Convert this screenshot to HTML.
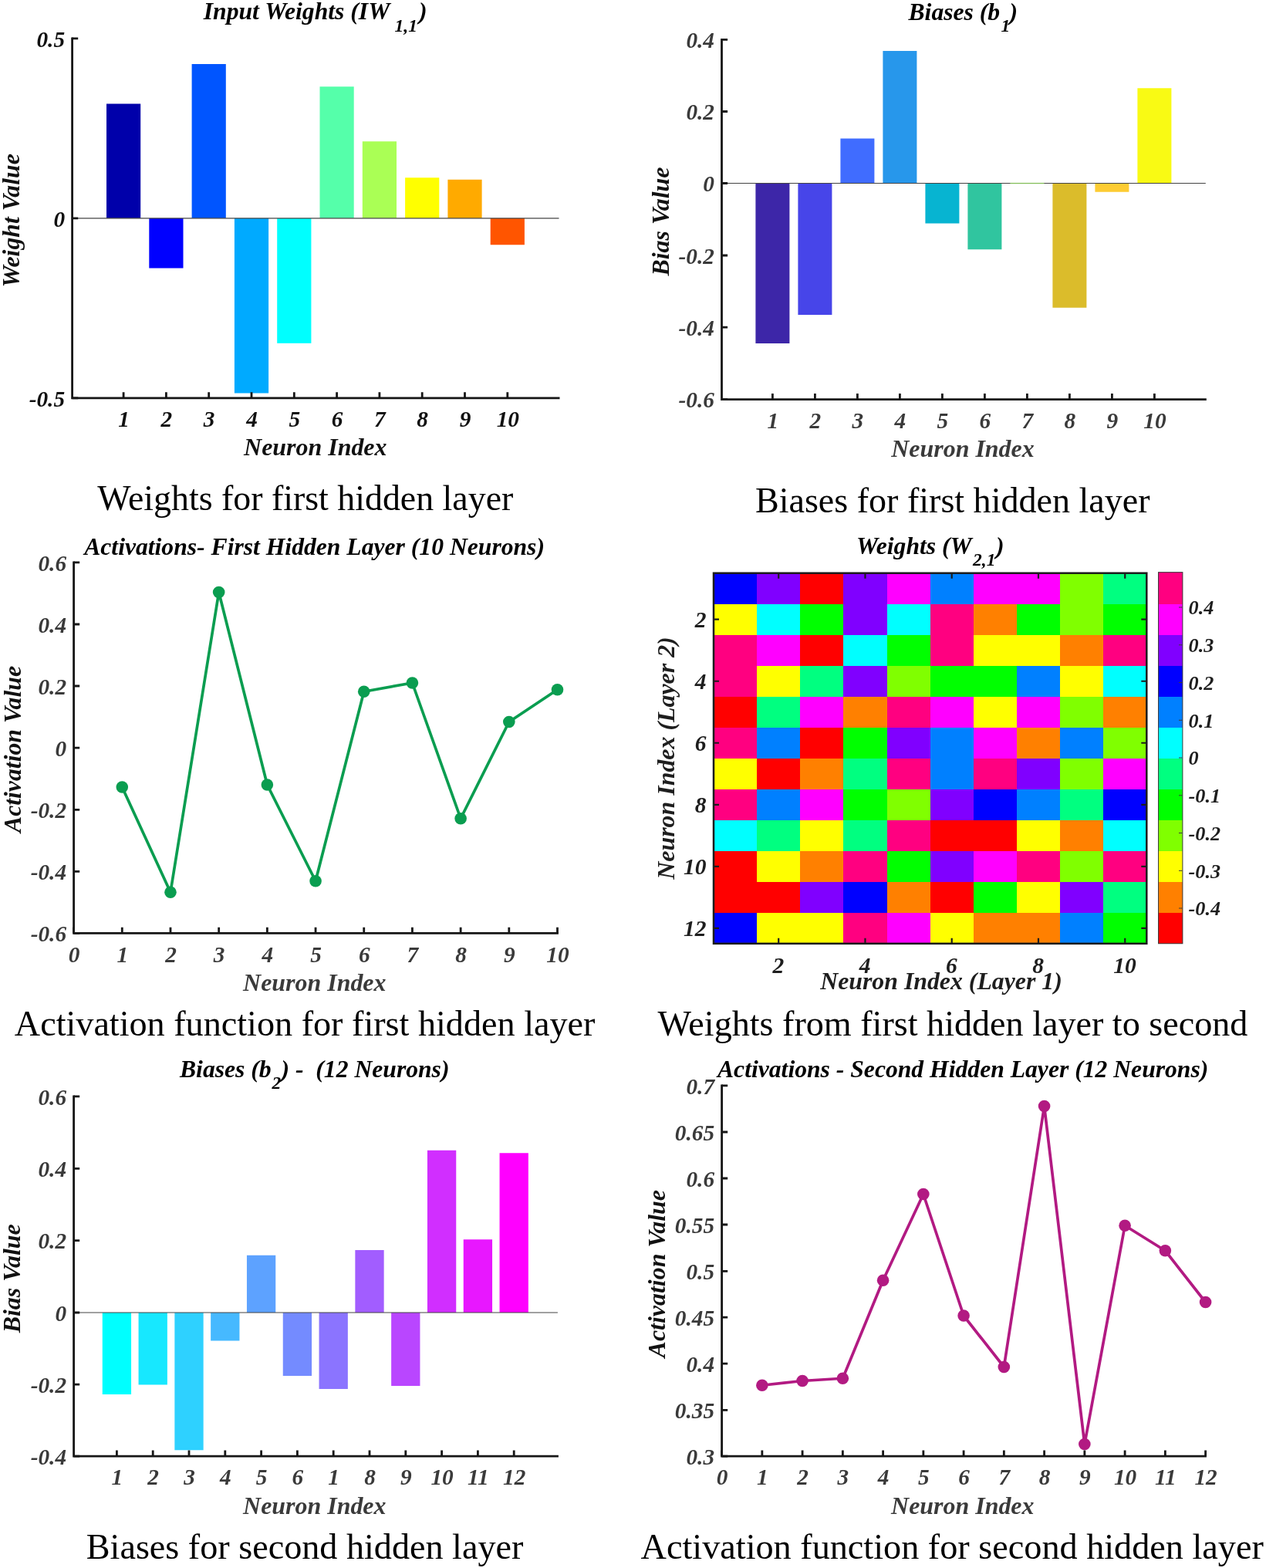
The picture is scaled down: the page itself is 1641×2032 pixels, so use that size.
<!DOCTYPE html>
<html lang="en">
<head>
<meta charset="utf-8">
<title>Neural network weights, biases and activations</title>
<style>
html,body{margin:0;padding:0;background:#fff;}
body{width:1641px;height:2032px;overflow:hidden;}
svg{display:block;}
text{font-family:"Liberation Serif", serif;white-space:pre;}
.bi{font-weight:bold;font-style:italic;}
.cap{font-weight:normal;font-style:normal;fill:#000;}
.ttl{font-weight:bold;font-style:italic;fill:#000;}
</style>
</head>
<body>
<svg width="1641" height="2032" viewBox="0 0 1641 2032">
<rect width="1641" height="2032" fill="#fff"/>

<g id="chart1">
<rect x="138" y="134.5" width="44.2" height="148.4" fill="#0000AA"/>
<rect x="193.3" y="282.9" width="44.2" height="64.6" fill="#0000FF"/>
<rect x="248.6" y="83" width="44.2" height="199.9" fill="#0055FF"/>
<rect x="303.9" y="282.9" width="44.2" height="226.6" fill="#00AAFF"/>
<rect x="359.2" y="282.9" width="44.2" height="161.9" fill="#00FFFF"/>
<rect x="414.5" y="112.25" width="44.2" height="170.65" fill="#55FFAA"/>
<rect x="469.8" y="183.25" width="44.2" height="99.65" fill="#AAFF55"/>
<rect x="525.1" y="230.25" width="44.2" height="52.65" fill="#FFFF00"/>
<rect x="580.4" y="232.75" width="44.2" height="50.15" fill="#FFAA00"/>
<rect x="635.7" y="282.9" width="44.2" height="34.35" fill="#FF5500"/>
<g class="axes">
<line x1="93.6" y1="282.9" x2="724.5" y2="282.9" stroke="#444" stroke-width="1.1"/>
<path d="M93.6 48.5V517.2M92.2 515.8H725.5" fill="none" stroke="#161616" stroke-width="2.8"/>
<path d="M93.6 49.9h7.6M93.6 282.9h7.6M93.6 515.8h7.6M160.1 515.8v-7.6M215.4 515.8v-7.6M270.7 515.8v-7.6M326 515.8v-7.6M381.3 515.8v-7.6M436.6 515.8v-7.6M491.9 515.8v-7.6M547.2 515.8v-7.6M602.5 515.8v-7.6M657.8 515.8v-7.6" fill="none" stroke="#161616" stroke-width="2.8"/>
<text class="bi" x="84.1" y="60.6" font-size="29.3" text-anchor="end" fill="#111">0.5</text>
<text class="bi" x="84.1" y="293.6" font-size="29.3" text-anchor="end" fill="#111">0</text>
<text class="bi" x="84.1" y="526.5" font-size="29.3" text-anchor="end" fill="#111">-0.5</text>
<text class="bi" x="160.6" y="553" font-size="29.3" text-anchor="middle" fill="#111">1</text>
<text class="bi" x="215.9" y="553" font-size="29.3" text-anchor="middle" fill="#111">2</text>
<text class="bi" x="271.2" y="553" font-size="29.3" text-anchor="middle" fill="#111">3</text>
<text class="bi" x="326.5" y="553" font-size="29.3" text-anchor="middle" fill="#111">4</text>
<text class="bi" x="381.8" y="553" font-size="29.3" text-anchor="middle" fill="#111">5</text>
<text class="bi" x="437.1" y="553" font-size="29.3" text-anchor="middle" fill="#111">6</text>
<text class="bi" x="492.4" y="553" font-size="29.3" text-anchor="middle" fill="#111">7</text>
<text class="bi" x="547.7" y="553" font-size="29.3" text-anchor="middle" fill="#111">8</text>
<text class="bi" x="603" y="553" font-size="29.3" text-anchor="middle" fill="#111">9</text>
<text class="bi" x="658.3" y="553" font-size="29.3" text-anchor="middle" fill="#111">10</text>
<text class="bi" x="408.8" y="590.1" font-size="31.95" text-anchor="middle" fill="#111">Neuron Index</text>
<text class="bi" x="24.7" y="285.8" font-size="31.75" text-anchor="middle" fill="#111" transform="rotate(-90 24.7 285.8)">Weight Value</text>
</g>
<text class="ttl" font-size="31.65" x="263.8" y="25.3">Input Weights (IW<tspan font-size="23.5" x="511.5" y="40.5">1,1</tspan><tspan x="543" y="25.3">)</tspan></text>
<text class="cap" x="126.3" y="661" font-size="45.88">Weights for first hidden layer</text>
</g>
<g id="chart2">
<rect x="979.4" y="237.5" width="44" height="207.5" fill="#3D26A8"/>
<rect x="1034.4" y="237.5" width="44" height="170.5" fill="#4745E9"/>
<rect x="1089.4" y="179.5" width="44" height="58" fill="#406CFF"/>
<rect x="1144.4" y="66" width="44" height="171.5" fill="#2797EB"/>
<rect x="1199.4" y="237.5" width="44" height="52" fill="#07B4D1"/>
<rect x="1254.4" y="237.5" width="44" height="85.75" fill="#30C59F"/>
<rect x="1309.4" y="237.5" width="44" height="0.7" fill="#7FCB5A"/>
<rect x="1364.4" y="237.5" width="44" height="161.25" fill="#DBBC2B"/>
<rect x="1419.4" y="237.5" width="44" height="11.25" fill="#FDCC33"/>
<rect x="1474.4" y="114.25" width="44" height="123.25" fill="#F9FA14"/>
<g class="axes">
<line x1="935.5" y1="237.5" x2="1562.8" y2="237.5" stroke="#444" stroke-width="1.1"/>
<path d="M935.5 49.9V519M934.1 517.6H1563.8" fill="none" stroke="#161616" stroke-width="2.8"/>
<path d="M935.5 51.3h7.6M935.5 144.5h7.6M935.5 237.5h7.6M935.5 331h7.6M935.5 424.2h7.6M935.5 517.6h7.6M1001.4 517.6v-7.6M1056.4 517.6v-7.6M1111.4 517.6v-7.6M1166.4 517.6v-7.6M1221.4 517.6v-7.6M1276.4 517.6v-7.6M1331.4 517.6v-7.6M1386.4 517.6v-7.6M1441.4 517.6v-7.6M1496.4 517.6v-7.6" fill="none" stroke="#161616" stroke-width="2.8"/>
<text class="bi" x="926" y="62" font-size="29.3" text-anchor="end" fill="#3a3a3a">0.4</text>
<text class="bi" x="926" y="155.2" font-size="29.3" text-anchor="end" fill="#3a3a3a">0.2</text>
<text class="bi" x="926" y="248.2" font-size="29.3" text-anchor="end" fill="#3a3a3a">0</text>
<text class="bi" x="926" y="341.7" font-size="29.3" text-anchor="end" fill="#3a3a3a">-0.2</text>
<text class="bi" x="926" y="434.9" font-size="29.3" text-anchor="end" fill="#3a3a3a">-0.4</text>
<text class="bi" x="926" y="528.3" font-size="29.3" text-anchor="end" fill="#3a3a3a">-0.6</text>
<text class="bi" x="1001.9" y="554.8" font-size="29.3" text-anchor="middle" fill="#3a3a3a">1</text>
<text class="bi" x="1056.9" y="554.8" font-size="29.3" text-anchor="middle" fill="#3a3a3a">2</text>
<text class="bi" x="1111.9" y="554.8" font-size="29.3" text-anchor="middle" fill="#3a3a3a">3</text>
<text class="bi" x="1166.9" y="554.8" font-size="29.3" text-anchor="middle" fill="#3a3a3a">4</text>
<text class="bi" x="1221.9" y="554.8" font-size="29.3" text-anchor="middle" fill="#3a3a3a">5</text>
<text class="bi" x="1276.9" y="554.8" font-size="29.3" text-anchor="middle" fill="#3a3a3a">6</text>
<text class="bi" x="1331.9" y="554.8" font-size="29.3" text-anchor="middle" fill="#3a3a3a">7</text>
<text class="bi" x="1386.9" y="554.8" font-size="29.3" text-anchor="middle" fill="#3a3a3a">8</text>
<text class="bi" x="1441.9" y="554.8" font-size="29.3" text-anchor="middle" fill="#3a3a3a">9</text>
<text class="bi" x="1496.9" y="554.8" font-size="29.3" text-anchor="middle" fill="#3a3a3a">10</text>
<text class="bi" x="1248" y="591.9" font-size="31.95" text-anchor="middle" fill="#3a3a3a">Neuron Index</text>
<text class="bi" x="866.6" y="287" font-size="31.95" text-anchor="middle" fill="#111" transform="rotate(-90 866.6 287)">Bias Value</text>
</g>
<rect x="1309.4" y="236.9" width="44" height="1" fill="#8CCB5E"/>
<text class="ttl" font-size="31.65" x="1177.5" y="26">Biases (b<tspan font-size="23.5" x="1297.5" y="41">1</tspan><tspan x="1308.5" y="26">)</tspan></text>
<text class="cap" x="979" y="663.8" font-size="46.05">Biases for first hidden layer</text>
</g>
<g id="chart3">
<polyline points="158.29,1020 220.98,1156.25 283.67,767.5 346.36,1017 409.05,1141.75 471.74,896.25 534.43,885 597.12,1060.75 659.81,935.5 722.5,893.75" fill="none" stroke="#0A9D50" stroke-width="3.7" stroke-linejoin="round"/>
<circle cx="158.29" cy="1020" r="7.8" fill="#0A9D50"/>
<circle cx="220.98" cy="1156.25" r="7.8" fill="#0A9D50"/>
<circle cx="283.67" cy="767.5" r="7.8" fill="#0A9D50"/>
<circle cx="346.36" cy="1017" r="7.8" fill="#0A9D50"/>
<circle cx="409.05" cy="1141.75" r="7.8" fill="#0A9D50"/>
<circle cx="471.74" cy="896.25" r="7.8" fill="#0A9D50"/>
<circle cx="534.43" cy="885" r="7.8" fill="#0A9D50"/>
<circle cx="597.12" cy="1060.75" r="7.8" fill="#0A9D50"/>
<circle cx="659.81" cy="935.5" r="7.8" fill="#0A9D50"/>
<circle cx="722.5" cy="893.75" r="7.8" fill="#0A9D50"/>
<g class="axes">
<path d="M95.6 727.4V1210.7M94.2 1209.3H723.9" fill="none" stroke="#161616" stroke-width="2.8"/>
<path d="M95.6 728.8h7.6M95.6 809h7.6M95.6 889h7.6M95.6 969.2h7.6M95.6 1049.3h7.6M95.6 1129.3h7.6M95.6 1209.3h7.6M95.6 1209.3v-7.6M158.29 1209.3v-7.6M220.98 1209.3v-7.6M283.67 1209.3v-7.6M346.36 1209.3v-7.6M409.05 1209.3v-7.6M471.74 1209.3v-7.6M534.43 1209.3v-7.6M597.12 1209.3v-7.6M659.81 1209.3v-7.6M722.5 1209.3v-7.6" fill="none" stroke="#161616" stroke-width="2.8"/>
<text class="bi" x="86.1" y="739.5" font-size="29.3" text-anchor="end" fill="#3a3a3a">0.6</text>
<text class="bi" x="86.1" y="819.7" font-size="29.3" text-anchor="end" fill="#3a3a3a">0.4</text>
<text class="bi" x="86.1" y="899.7" font-size="29.3" text-anchor="end" fill="#3a3a3a">0.2</text>
<text class="bi" x="86.1" y="979.9" font-size="29.3" text-anchor="end" fill="#3a3a3a">0</text>
<text class="bi" x="86.1" y="1060" font-size="29.3" text-anchor="end" fill="#3a3a3a">-0.2</text>
<text class="bi" x="86.1" y="1140" font-size="29.3" text-anchor="end" fill="#3a3a3a">-0.4</text>
<text class="bi" x="86.1" y="1220" font-size="29.3" text-anchor="end" fill="#3a3a3a">-0.6</text>
<text class="bi" x="96.1" y="1246.5" font-size="29.3" text-anchor="middle" fill="#3a3a3a">0</text>
<text class="bi" x="158.79" y="1246.5" font-size="29.3" text-anchor="middle" fill="#3a3a3a">1</text>
<text class="bi" x="221.48" y="1246.5" font-size="29.3" text-anchor="middle" fill="#3a3a3a">2</text>
<text class="bi" x="284.17" y="1246.5" font-size="29.3" text-anchor="middle" fill="#3a3a3a">3</text>
<text class="bi" x="346.86" y="1246.5" font-size="29.3" text-anchor="middle" fill="#3a3a3a">4</text>
<text class="bi" x="409.55" y="1246.5" font-size="29.3" text-anchor="middle" fill="#3a3a3a">5</text>
<text class="bi" x="472.24" y="1246.5" font-size="29.3" text-anchor="middle" fill="#3a3a3a">6</text>
<text class="bi" x="534.93" y="1246.5" font-size="29.3" text-anchor="middle" fill="#3a3a3a">7</text>
<text class="bi" x="597.62" y="1246.5" font-size="29.3" text-anchor="middle" fill="#3a3a3a">8</text>
<text class="bi" x="660.31" y="1246.5" font-size="29.3" text-anchor="middle" fill="#3a3a3a">9</text>
<text class="bi" x="723" y="1246.5" font-size="29.3" text-anchor="middle" fill="#3a3a3a">10</text>
<text class="bi" x="407.8" y="1283.6" font-size="31.95" text-anchor="middle" fill="#3a3a3a">Neuron Index</text>
<text class="bi" x="26.9" y="971" font-size="31.76" text-anchor="middle" fill="#111" transform="rotate(-90 26.9 971)">Activation Value</text>
</g>
<text class="ttl" x="109.2" y="718.8" font-size="31.65">Activations- First Hidden Layer (10 Neurons)</text>
<text class="cap" x="18.8" y="1341.8" font-size="46.18">Activation function for first hidden layer</text>
</g>
<g id="chart4">
<g shape-rendering="crispEdges">
<rect x="925" y="742.7" width="56.63" height="40.51" fill="#0000FF"/>
<rect x="981.13" y="742.7" width="56.63" height="40.51" fill="#8000FF"/>
<rect x="1037.26" y="742.7" width="56.63" height="40.51" fill="#FF0000"/>
<rect x="1093.39" y="742.7" width="56.63" height="40.51" fill="#8000FF"/>
<rect x="1149.52" y="742.7" width="56.63" height="40.51" fill="#FF00FF"/>
<rect x="1205.65" y="742.7" width="56.63" height="40.51" fill="#0080FF"/>
<rect x="1261.78" y="742.7" width="112.76" height="40.51" fill="#FF00FF"/>
<rect x="1374.04" y="742.7" width="56.63" height="40.51" fill="#80FF00"/>
<rect x="1430.17" y="742.7" width="56.63" height="40.51" fill="#00FF80"/>
<rect x="925" y="782.71" width="56.63" height="40.51" fill="#FFFF00"/>
<rect x="981.13" y="782.71" width="56.63" height="40.51" fill="#00FFFF"/>
<rect x="1037.26" y="782.71" width="56.63" height="40.51" fill="#00FF00"/>
<rect x="1093.39" y="782.71" width="56.63" height="40.51" fill="#8000FF"/>
<rect x="1149.52" y="782.71" width="56.63" height="40.51" fill="#00FFFF"/>
<rect x="1205.65" y="782.71" width="56.63" height="40.51" fill="#FF0080"/>
<rect x="1261.78" y="782.71" width="56.63" height="40.51" fill="#FF8000"/>
<rect x="1317.91" y="782.71" width="56.63" height="40.51" fill="#00FF00"/>
<rect x="1374.04" y="782.71" width="56.63" height="40.51" fill="#80FF00"/>
<rect x="1430.17" y="782.71" width="56.63" height="40.51" fill="#00FF00"/>
<rect x="925" y="822.72" width="56.63" height="40.51" fill="#FF0080"/>
<rect x="981.13" y="822.72" width="56.63" height="40.51" fill="#FF00FF"/>
<rect x="1037.26" y="822.72" width="56.63" height="40.51" fill="#FF0000"/>
<rect x="1093.39" y="822.72" width="56.63" height="40.51" fill="#00FFFF"/>
<rect x="1149.52" y="822.72" width="56.63" height="40.51" fill="#00FF00"/>
<rect x="1205.65" y="822.72" width="56.63" height="40.51" fill="#FF0080"/>
<rect x="1261.78" y="822.72" width="112.76" height="40.51" fill="#FFFF00"/>
<rect x="1374.04" y="822.72" width="56.63" height="40.51" fill="#FF8000"/>
<rect x="1430.17" y="822.72" width="56.63" height="40.51" fill="#FF0080"/>
<rect x="925" y="862.73" width="56.63" height="40.51" fill="#FF0080"/>
<rect x="981.13" y="862.73" width="56.63" height="40.51" fill="#FFFF00"/>
<rect x="1037.26" y="862.73" width="56.63" height="40.51" fill="#00FF80"/>
<rect x="1093.39" y="862.73" width="56.63" height="40.51" fill="#8000FF"/>
<rect x="1149.52" y="862.73" width="56.63" height="40.51" fill="#80FF00"/>
<rect x="1205.65" y="862.73" width="112.76" height="40.51" fill="#00FF00"/>
<rect x="1317.91" y="862.73" width="56.63" height="40.51" fill="#0080FF"/>
<rect x="1374.04" y="862.73" width="56.63" height="40.51" fill="#FFFF00"/>
<rect x="1430.17" y="862.73" width="56.63" height="40.51" fill="#00FFFF"/>
<rect x="925" y="902.74" width="56.63" height="40.51" fill="#FF0000"/>
<rect x="981.13" y="902.74" width="56.63" height="40.51" fill="#00FF80"/>
<rect x="1037.26" y="902.74" width="56.63" height="40.51" fill="#FF00FF"/>
<rect x="1093.39" y="902.74" width="56.63" height="40.51" fill="#FF8000"/>
<rect x="1149.52" y="902.74" width="56.63" height="40.51" fill="#FF0080"/>
<rect x="1205.65" y="902.74" width="56.63" height="40.51" fill="#FF00FF"/>
<rect x="1261.78" y="902.74" width="56.63" height="40.51" fill="#FFFF00"/>
<rect x="1317.91" y="902.74" width="56.63" height="40.51" fill="#FF00FF"/>
<rect x="1374.04" y="902.74" width="56.63" height="40.51" fill="#80FF00"/>
<rect x="1430.17" y="902.74" width="56.63" height="40.51" fill="#FF8000"/>
<rect x="925" y="942.75" width="56.63" height="40.51" fill="#FF0080"/>
<rect x="981.13" y="942.75" width="56.63" height="40.51" fill="#0080FF"/>
<rect x="1037.26" y="942.75" width="56.63" height="40.51" fill="#FF0000"/>
<rect x="1093.39" y="942.75" width="56.63" height="40.51" fill="#00FF00"/>
<rect x="1149.52" y="942.75" width="56.63" height="40.51" fill="#8000FF"/>
<rect x="1205.65" y="942.75" width="56.63" height="40.51" fill="#0080FF"/>
<rect x="1261.78" y="942.75" width="56.63" height="40.51" fill="#FF00FF"/>
<rect x="1317.91" y="942.75" width="56.63" height="40.51" fill="#FF8000"/>
<rect x="1374.04" y="942.75" width="56.63" height="40.51" fill="#0080FF"/>
<rect x="1430.17" y="942.75" width="56.63" height="40.51" fill="#80FF00"/>
<rect x="925" y="982.76" width="56.63" height="40.51" fill="#FFFF00"/>
<rect x="981.13" y="982.76" width="56.63" height="40.51" fill="#FF0000"/>
<rect x="1037.26" y="982.76" width="56.63" height="40.51" fill="#FF8000"/>
<rect x="1093.39" y="982.76" width="56.63" height="40.51" fill="#00FF80"/>
<rect x="1149.52" y="982.76" width="56.63" height="40.51" fill="#FF0080"/>
<rect x="1205.65" y="982.76" width="56.63" height="40.51" fill="#0080FF"/>
<rect x="1261.78" y="982.76" width="56.63" height="40.51" fill="#FF0080"/>
<rect x="1317.91" y="982.76" width="56.63" height="40.51" fill="#8000FF"/>
<rect x="1374.04" y="982.76" width="56.63" height="40.51" fill="#80FF00"/>
<rect x="1430.17" y="982.76" width="56.63" height="40.51" fill="#FF00FF"/>
<rect x="925" y="1022.77" width="56.63" height="40.51" fill="#FF0080"/>
<rect x="981.13" y="1022.77" width="56.63" height="40.51" fill="#0080FF"/>
<rect x="1037.26" y="1022.77" width="56.63" height="40.51" fill="#FF00FF"/>
<rect x="1093.39" y="1022.77" width="56.63" height="40.51" fill="#00FF00"/>
<rect x="1149.52" y="1022.77" width="56.63" height="40.51" fill="#80FF00"/>
<rect x="1205.65" y="1022.77" width="56.63" height="40.51" fill="#8000FF"/>
<rect x="1261.78" y="1022.77" width="56.63" height="40.51" fill="#0000FF"/>
<rect x="1317.91" y="1022.77" width="56.63" height="40.51" fill="#0080FF"/>
<rect x="1374.04" y="1022.77" width="56.63" height="40.51" fill="#00FF80"/>
<rect x="1430.17" y="1022.77" width="56.63" height="40.51" fill="#0000FF"/>
<rect x="925" y="1062.78" width="56.63" height="40.51" fill="#00FFFF"/>
<rect x="981.13" y="1062.78" width="56.63" height="40.51" fill="#00FF80"/>
<rect x="1037.26" y="1062.78" width="56.63" height="40.51" fill="#FFFF00"/>
<rect x="1093.39" y="1062.78" width="56.63" height="40.51" fill="#00FF80"/>
<rect x="1149.52" y="1062.78" width="56.63" height="40.51" fill="#FF0080"/>
<rect x="1205.65" y="1062.78" width="112.76" height="40.51" fill="#FF0000"/>
<rect x="1317.91" y="1062.78" width="56.63" height="40.51" fill="#FFFF00"/>
<rect x="1374.04" y="1062.78" width="56.63" height="40.51" fill="#FF8000"/>
<rect x="1430.17" y="1062.78" width="56.63" height="40.51" fill="#00FFFF"/>
<rect x="925" y="1102.79" width="56.63" height="40.51" fill="#FF0000"/>
<rect x="981.13" y="1102.79" width="56.63" height="40.51" fill="#FFFF00"/>
<rect x="1037.26" y="1102.79" width="56.63" height="40.51" fill="#FF8000"/>
<rect x="1093.39" y="1102.79" width="56.63" height="40.51" fill="#FF0080"/>
<rect x="1149.52" y="1102.79" width="56.63" height="40.51" fill="#00FF00"/>
<rect x="1205.65" y="1102.79" width="56.63" height="40.51" fill="#8000FF"/>
<rect x="1261.78" y="1102.79" width="56.63" height="40.51" fill="#FF00FF"/>
<rect x="1317.91" y="1102.79" width="56.63" height="40.51" fill="#FF0080"/>
<rect x="1374.04" y="1102.79" width="56.63" height="40.51" fill="#80FF00"/>
<rect x="1430.17" y="1102.79" width="56.63" height="40.51" fill="#FF0080"/>
<rect x="925" y="1142.8" width="112.76" height="40.51" fill="#FF0000"/>
<rect x="1037.26" y="1142.8" width="56.63" height="40.51" fill="#8000FF"/>
<rect x="1093.39" y="1142.8" width="56.63" height="40.51" fill="#0000FF"/>
<rect x="1149.52" y="1142.8" width="56.63" height="40.51" fill="#FF8000"/>
<rect x="1205.65" y="1142.8" width="56.63" height="40.51" fill="#FF0000"/>
<rect x="1261.78" y="1142.8" width="56.63" height="40.51" fill="#00FF00"/>
<rect x="1317.91" y="1142.8" width="56.63" height="40.51" fill="#FFFF00"/>
<rect x="1374.04" y="1142.8" width="56.63" height="40.51" fill="#8000FF"/>
<rect x="1430.17" y="1142.8" width="56.63" height="40.51" fill="#00FF80"/>
<rect x="925" y="1182.81" width="56.63" height="40.51" fill="#0000FF"/>
<rect x="981.13" y="1182.81" width="112.76" height="40.51" fill="#FFFF00"/>
<rect x="1093.39" y="1182.81" width="56.63" height="40.51" fill="#FF0080"/>
<rect x="1149.52" y="1182.81" width="56.63" height="40.51" fill="#FF00FF"/>
<rect x="1205.65" y="1182.81" width="56.63" height="40.51" fill="#FFFF00"/>
<rect x="1261.78" y="1182.81" width="112.76" height="40.51" fill="#FF8000"/>
<rect x="1374.04" y="1182.81" width="56.63" height="40.51" fill="#0080FF"/>
<rect x="1430.17" y="1182.81" width="56.63" height="40.51" fill="#00FF00"/>
</g>
<rect x="925" y="742.7" width="561.3" height="480.12" fill="none" stroke="#1c1c1c" stroke-width="2.5"/>
<path d="M1009.2 742.7v7M1009.2 1222.82v-7M1121.45 742.7v7M1121.45 1222.82v-7M1233.72 742.7v7M1233.72 1222.82v-7M1345.97 742.7v7M1345.97 1222.82v-7M1458.24 742.7v7M1458.24 1222.82v-7M925 802.72h7M1486.3 802.72h-7M925 882.74h7M1486.3 882.74h-7M925 962.75h7M1486.3 962.75h-7M925 1042.78h7M1486.3 1042.78h-7M925 1122.8h7M1486.3 1122.8h-7M925 1202.82h7M1486.3 1202.82h-7" fill="none" stroke="#1c1c1c" stroke-width="2.2"/>
<text class="bi" x="915.4" y="813.32" font-size="29.5" text-anchor="end" fill="#1e1e1e">2</text>
<text class="bi" x="915.4" y="893.34" font-size="29.5" text-anchor="end" fill="#1e1e1e">4</text>
<text class="bi" x="915.4" y="973.36" font-size="29.5" text-anchor="end" fill="#1e1e1e">6</text>
<text class="bi" x="915.4" y="1053.38" font-size="29.5" text-anchor="end" fill="#1e1e1e">8</text>
<text class="bi" x="915.4" y="1133.39" font-size="29.5" text-anchor="end" fill="#1e1e1e">10</text>
<text class="bi" x="915.4" y="1213.41" font-size="29.5" text-anchor="end" fill="#1e1e1e">12</text>
<text class="bi" x="1008.9" y="1260.5" font-size="29.5" text-anchor="middle" fill="#1e1e1e">2</text>
<text class="bi" x="1121.15" y="1260.5" font-size="29.5" text-anchor="middle" fill="#1e1e1e">4</text>
<text class="bi" x="1233.42" y="1260.5" font-size="29.5" text-anchor="middle" fill="#1e1e1e">6</text>
<text class="bi" x="1345.67" y="1260.5" font-size="29.5" text-anchor="middle" fill="#1e1e1e">8</text>
<text class="bi" x="1457.94" y="1260.5" font-size="29.5" text-anchor="middle" fill="#1e1e1e">10</text>
<text class="bi" x="1220" y="1282.3" font-size="31.8" text-anchor="middle" fill="#1e1e1e">Neuron Index (Layer 1)</text>
<text class="bi" x="873.5" y="982.5" font-size="31.9" text-anchor="middle" fill="#1e1e1e" transform="rotate(-90 873.5 982.5)">Neuron Index (Layer 2)</text>
<g shape-rendering="crispEdges">
<rect x="1501.9" y="1182.33" width="30.6" height="40.53" fill="#FF0000"/>
<rect x="1501.9" y="1142.3" width="30.6" height="40.53" fill="#FF8000"/>
<rect x="1501.9" y="1102.27" width="30.6" height="40.53" fill="#FFFF00"/>
<rect x="1501.9" y="1062.24" width="30.6" height="40.53" fill="#80FF00"/>
<rect x="1501.9" y="1022.21" width="30.6" height="40.53" fill="#00FF00"/>
<rect x="1501.9" y="982.18" width="30.6" height="40.53" fill="#00FF80"/>
<rect x="1501.9" y="942.15" width="30.6" height="40.53" fill="#00FFFF"/>
<rect x="1501.9" y="902.12" width="30.6" height="40.53" fill="#0080FF"/>
<rect x="1501.9" y="862.09" width="30.6" height="40.53" fill="#0000FF"/>
<rect x="1501.9" y="822.06" width="30.6" height="40.53" fill="#8000FF"/>
<rect x="1501.9" y="782.03" width="30.6" height="40.53" fill="#FF00FF"/>
<rect x="1501.9" y="742" width="30.6" height="40.53" fill="#FF0080"/>
</g>
<rect x="1501.5" y="741.6" width="31.4" height="481.16" fill="none" stroke="#3a3a3a" stroke-width="1"/>
<text class="bi" x="1540.6" y="796.4" font-size="26.2" fill="#1e1e1e">0.4</text>
<text class="bi" x="1540.6" y="845.2" font-size="26.2" fill="#1e1e1e">0.3</text>
<text class="bi" x="1540.6" y="893.9" font-size="26.2" fill="#1e1e1e">0.2</text>
<text class="bi" x="1540.6" y="942.7" font-size="26.2" fill="#1e1e1e">0.1</text>
<text class="bi" x="1540.6" y="991.4" font-size="26.2" fill="#1e1e1e">0</text>
<text class="bi" x="1540.6" y="1040.2" font-size="26.2" fill="#1e1e1e">-0.1</text>
<text class="bi" x="1540.6" y="1088.9" font-size="26.2" fill="#1e1e1e">-0.2</text>
<text class="bi" x="1540.6" y="1137.7" font-size="26.2" fill="#1e1e1e">-0.3</text>
<text class="bi" x="1540.6" y="1186.4" font-size="26.2" fill="#1e1e1e">-0.4</text>
<path d="M1532.5 787h-4.5M1532.5 835.8h-4.5M1532.5 884.5h-4.5M1532.5 933.3h-4.5M1532.5 982h-4.5M1532.5 1030.8h-4.5M1532.5 1079.5h-4.5M1532.5 1128.3h-4.5M1532.5 1177h-4.5" fill="none" stroke="#3a3a3a" stroke-width="1"/>
<text class="ttl" font-size="31.65" x="1110" y="717.5" fill="#111">Weights (W<tspan font-size="23.5" x="1261" y="733.3">2,1</tspan><tspan x="1291" y="717.5">)</tspan></text>
<text class="cap" x="852.5" y="1341.6" font-size="46.13">Weights from first hidden layer to second</text>
</g>
<g id="chart5">
<rect x="132.75" y="1701" width="37.3" height="106" fill="#00FFFF"/>
<rect x="179.55" y="1701" width="37.3" height="93.5" fill="#17E8FF"/>
<rect x="226.35" y="1701" width="37.3" height="178.25" fill="#2ED1FF"/>
<rect x="273.15" y="1701" width="37.3" height="36.5" fill="#46B9FF"/>
<rect x="319.95" y="1626.75" width="37.3" height="74.25" fill="#5DA2FF"/>
<rect x="366.75" y="1701" width="37.3" height="82" fill="#748BFF"/>
<rect x="413.55" y="1701" width="37.3" height="99" fill="#8B74FF"/>
<rect x="460.35" y="1620" width="37.3" height="81" fill="#A25DFF"/>
<rect x="507.15" y="1701" width="37.3" height="95" fill="#B946FF"/>
<rect x="553.95" y="1490.75" width="37.3" height="210.25" fill="#D12EFF"/>
<rect x="600.75" y="1606.25" width="37.3" height="94.75" fill="#E817FF"/>
<rect x="647.55" y="1494.25" width="37.3" height="206.75" fill="#FF00FF"/>
<g class="axes">
<line x1="95.6" y1="1701" x2="722.9" y2="1701" stroke="#444" stroke-width="1.1"/>
<path d="M95.6 1419.4V1888.6M94.2 1887.2H723.9" fill="none" stroke="#161616" stroke-width="2.8"/>
<path d="M95.6 1420.8h7.6M95.6 1514.3h7.6M95.6 1607.6h7.6M95.6 1701h7.6M95.6 1794.2h7.6M95.6 1887.2h7.6M151.4 1887.2v-7.6M198.2 1887.2v-7.6M245 1887.2v-7.6M291.8 1887.2v-7.6M338.6 1887.2v-7.6M385.4 1887.2v-7.6M432.2 1887.2v-7.6M479 1887.2v-7.6M525.8 1887.2v-7.6M572.6 1887.2v-7.6M619.4 1887.2v-7.6M666.2 1887.2v-7.6" fill="none" stroke="#161616" stroke-width="2.8"/>
<text class="bi" x="86.1" y="1431.5" font-size="29.3" text-anchor="end" fill="#3a3a3a">0.6</text>
<text class="bi" x="86.1" y="1525" font-size="29.3" text-anchor="end" fill="#3a3a3a">0.4</text>
<text class="bi" x="86.1" y="1618.3" font-size="29.3" text-anchor="end" fill="#3a3a3a">0.2</text>
<text class="bi" x="86.1" y="1711.7" font-size="29.3" text-anchor="end" fill="#3a3a3a">0</text>
<text class="bi" x="86.1" y="1804.9" font-size="29.3" text-anchor="end" fill="#3a3a3a">-0.2</text>
<text class="bi" x="86.1" y="1897.9" font-size="29.3" text-anchor="end" fill="#3a3a3a">-0.4</text>
<text class="bi" x="151.9" y="1924.4" font-size="29.3" text-anchor="middle" fill="#3a3a3a">1</text>
<text class="bi" x="198.7" y="1924.4" font-size="29.3" text-anchor="middle" fill="#3a3a3a">2</text>
<text class="bi" x="245.5" y="1924.4" font-size="29.3" text-anchor="middle" fill="#3a3a3a">3</text>
<text class="bi" x="292.3" y="1924.4" font-size="29.3" text-anchor="middle" fill="#3a3a3a">4</text>
<text class="bi" x="339.1" y="1924.4" font-size="29.3" text-anchor="middle" fill="#3a3a3a">5</text>
<text class="bi" x="385.9" y="1924.4" font-size="29.3" text-anchor="middle" fill="#3a3a3a">6</text>
<text class="bi" x="432.7" y="1924.4" font-size="29.3" text-anchor="middle" fill="#3a3a3a">1</text>
<text class="bi" x="479.5" y="1924.4" font-size="29.3" text-anchor="middle" fill="#3a3a3a">8</text>
<text class="bi" x="526.3" y="1924.4" font-size="29.3" text-anchor="middle" fill="#3a3a3a">9</text>
<text class="bi" x="573.1" y="1924.4" font-size="29.3" text-anchor="middle" fill="#3a3a3a">10</text>
<text class="bi" x="619.9" y="1924.4" font-size="29.3" text-anchor="middle" fill="#3a3a3a">11</text>
<text class="bi" x="666.7" y="1924.4" font-size="29.3" text-anchor="middle" fill="#3a3a3a">12</text>
<text class="bi" x="407.8" y="1961.5" font-size="31.95" text-anchor="middle" fill="#3a3a3a">Neuron Index</text>
<text class="bi" x="26.4" y="1656.8" font-size="31.95" text-anchor="middle" fill="#111" transform="rotate(-90 26.4 1656.8)">Bias Value</text>
</g>
<text class="ttl" font-size="31.65" x="233" y="1396.3">Biases (b<tspan font-size="23.5" x="352.5" y="1410.5">2</tspan><tspan x="364.5" y="1396.3">) -  (12 Neurons)</tspan></text>
<text class="cap" x="111.8" y="2020.3" font-size="46.16">Biases for second hidden layer</text>
</g>
<g id="chart6">
<polyline points="987.85,1795.25 1040.1,1789.5 1092.35,1786.25 1144.6,1659.25 1196.85,1547.5 1249.1,1705 1301.35,1771.5 1353.6,1433.5 1405.85,1871.5 1458.1,1588.25 1510.35,1620.75 1562.6,1687.5" fill="none" stroke="#B21A82" stroke-width="3.7" stroke-linejoin="round"/>
<circle cx="987.85" cy="1795.25" r="7.8" fill="#B21A82"/>
<circle cx="1040.1" cy="1789.5" r="7.8" fill="#B21A82"/>
<circle cx="1092.35" cy="1786.25" r="7.8" fill="#B21A82"/>
<circle cx="1144.6" cy="1659.25" r="7.8" fill="#B21A82"/>
<circle cx="1196.85" cy="1547.5" r="7.8" fill="#B21A82"/>
<circle cx="1249.1" cy="1705" r="7.8" fill="#B21A82"/>
<circle cx="1301.35" cy="1771.5" r="7.8" fill="#B21A82"/>
<circle cx="1353.6" cy="1433.5" r="7.8" fill="#B21A82"/>
<circle cx="1405.85" cy="1871.5" r="7.8" fill="#B21A82"/>
<circle cx="1458.1" cy="1588.25" r="7.8" fill="#B21A82"/>
<circle cx="1510.35" cy="1620.75" r="7.8" fill="#B21A82"/>
<circle cx="1562.6" cy="1687.5" r="7.8" fill="#B21A82"/>
<g class="axes">
<path d="M935.6 1405.4V1888.6M934.2 1887.2H1563.9" fill="none" stroke="#161616" stroke-width="2.8"/>
<path d="M935.6 1406.8h7.6M935.6 1467h7.6M935.6 1527h7.6M935.6 1587h7.6M935.6 1647.3h7.6M935.6 1707.2h7.6M935.6 1767.2h7.6M935.6 1827.3h7.6M935.6 1887.2h7.6M935.6 1887.2v-7.6M987.85 1887.2v-7.6M1040.1 1887.2v-7.6M1092.35 1887.2v-7.6M1144.6 1887.2v-7.6M1196.85 1887.2v-7.6M1249.1 1887.2v-7.6M1301.35 1887.2v-7.6M1353.6 1887.2v-7.6M1405.85 1887.2v-7.6M1458.1 1887.2v-7.6M1510.35 1887.2v-7.6M1562.6 1887.2v-7.6" fill="none" stroke="#161616" stroke-width="2.8"/>
<text class="bi" x="926.1" y="1417.5" font-size="29.3" text-anchor="end" fill="#3a3a3a">0.7</text>
<text class="bi" x="926.1" y="1477.7" font-size="29.3" text-anchor="end" fill="#3a3a3a">0.65</text>
<text class="bi" x="926.1" y="1537.7" font-size="29.3" text-anchor="end" fill="#3a3a3a">0.6</text>
<text class="bi" x="926.1" y="1597.7" font-size="29.3" text-anchor="end" fill="#3a3a3a">0.55</text>
<text class="bi" x="926.1" y="1658" font-size="29.3" text-anchor="end" fill="#3a3a3a">0.5</text>
<text class="bi" x="926.1" y="1717.9" font-size="29.3" text-anchor="end" fill="#3a3a3a">0.45</text>
<text class="bi" x="926.1" y="1777.9" font-size="29.3" text-anchor="end" fill="#3a3a3a">0.4</text>
<text class="bi" x="926.1" y="1838" font-size="29.3" text-anchor="end" fill="#3a3a3a">0.35</text>
<text class="bi" x="926.1" y="1897.9" font-size="29.3" text-anchor="end" fill="#3a3a3a">0.3</text>
<text class="bi" x="936.1" y="1924.4" font-size="29.3" text-anchor="middle" fill="#3a3a3a">0</text>
<text class="bi" x="988.35" y="1924.4" font-size="29.3" text-anchor="middle" fill="#3a3a3a">1</text>
<text class="bi" x="1040.6" y="1924.4" font-size="29.3" text-anchor="middle" fill="#3a3a3a">2</text>
<text class="bi" x="1092.85" y="1924.4" font-size="29.3" text-anchor="middle" fill="#3a3a3a">3</text>
<text class="bi" x="1145.1" y="1924.4" font-size="29.3" text-anchor="middle" fill="#3a3a3a">4</text>
<text class="bi" x="1197.35" y="1924.4" font-size="29.3" text-anchor="middle" fill="#3a3a3a">5</text>
<text class="bi" x="1249.6" y="1924.4" font-size="29.3" text-anchor="middle" fill="#3a3a3a">6</text>
<text class="bi" x="1301.85" y="1924.4" font-size="29.3" text-anchor="middle" fill="#3a3a3a">7</text>
<text class="bi" x="1354.1" y="1924.4" font-size="29.3" text-anchor="middle" fill="#3a3a3a">8</text>
<text class="bi" x="1406.35" y="1924.4" font-size="29.3" text-anchor="middle" fill="#3a3a3a">9</text>
<text class="bi" x="1458.6" y="1924.4" font-size="29.3" text-anchor="middle" fill="#3a3a3a">10</text>
<text class="bi" x="1510.85" y="1924.4" font-size="29.3" text-anchor="middle" fill="#3a3a3a">11</text>
<text class="bi" x="1563.1" y="1924.4" font-size="29.3" text-anchor="middle" fill="#3a3a3a">12</text>
<text class="bi" x="1247.8" y="1961.5" font-size="31.95" text-anchor="middle" fill="#3a3a3a">Neuron Index</text>
<text class="bi" x="862.3" y="1650.7" font-size="31.95" text-anchor="middle" fill="#111" transform="rotate(-90 862.3 1650.7)">Activation Value</text>
</g>
<text class="ttl" x="930" y="1395.8" font-size="31.65">Activations - Second Hidden Layer (12 Neurons)</text>
<text class="cap" x="830.6" y="2020.3" font-size="46.23">Activation function for second hidden layer</text>
</g>
</svg>
</body>
</html>
